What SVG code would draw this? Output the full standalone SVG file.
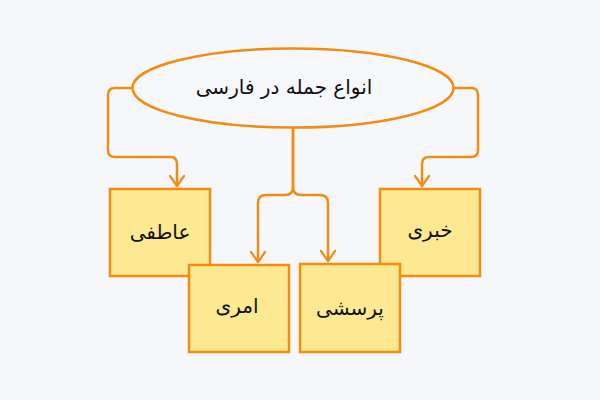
<svg xmlns="http://www.w3.org/2000/svg" width="600" height="400" viewBox="0 0 600 400">
<defs>
<style>
.bg{fill:#f6f7fa}
.box{fill:#fde992;stroke:#f28c12;stroke-width:2.5}
.ell{fill:#f7f8fb;stroke:#f28c12;stroke-width:2.5}
.con{fill:none;stroke:#f28c12;stroke-width:2.5;stroke-linejoin:round}
.arr{fill:none;stroke:#f28c12;stroke-width:2.2;stroke-linecap:round;stroke-linejoin:round}
.lbl{font-family:"DejaVu Sans","Noto Sans",sans-serif;font-size:20px;fill:#111;text-anchor:middle;dominant-baseline:central;direction:rtl}
</style>
</defs>
<rect class="bg" x="0" y="0" width="600" height="400"/>
<g id="connectors">
<path class="con" d="M132,88 H115 Q108,88 108,95 V150 Q108,157 115,157 H170 Q177,157 177,164 V186"/>
<path class="con" d="M454,88 H471 Q478,88 478,95 V150 Q478,157 471,157 H429 Q422,157 422,164 V186"/>
<path class="con" d="M293,127 V187 Q293,195 285,195 H266 Q258,195 258,203 V262"/>
<path class="con" d="M293,127 V187 Q293,195 301,195 H320 Q328,195 328,203 V261"/>
<path class="arr" d="M170,176 L177,186 L184,176"/>
<path class="arr" d="M415,176 L422,186 L429,176"/>
<path class="arr" d="M251,252 L258,262 L265,252"/>
<path class="arr" d="M321,251 L328,261 L335,251"/>
</g>
<g id="root">
<ellipse class="ell" cx="293" cy="88" rx="160.5" ry="39.5"/>
<text class="lbl" x="284" y="87">انواع جمله در فارسی</text>
</g>
<g id="atefi">
<rect class="box" x="110" y="189" width="100" height="87"/>
<text class="lbl" x="160" y="232">عاطفی</text>
</g>
<g id="khabari">
<rect class="box" x="380" y="189" width="100" height="87"/>
<text class="lbl" x="430" y="230">خبری</text>
</g>
<g id="amri">
<rect class="box" x="189" y="265" width="100" height="87"/>
<text class="lbl" x="237" y="306">امری</text>
</g>
<g id="porseshi">
<rect class="box" x="300" y="264" width="100" height="88"/>
<text class="lbl" x="350" y="308">پرسشی</text>
</g>
</svg>
